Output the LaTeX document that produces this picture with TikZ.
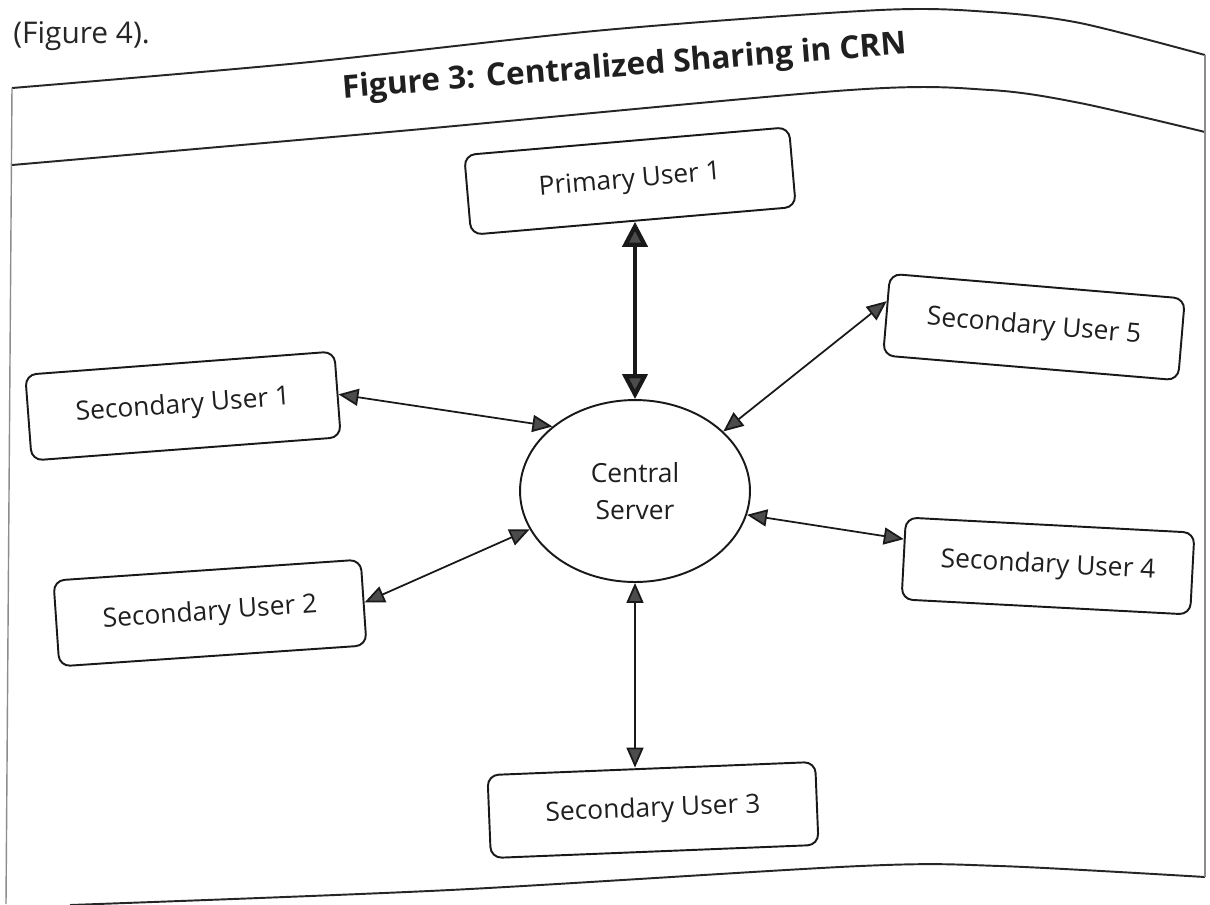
\documentclass[tikz,border=0pt]{standalone}
\usepackage{fontspec}
\setmainfont{Open Sans}
\usetikzlibrary{arrows.meta,shapes.geometric,calc}
\begin{document}
\begin{tikzpicture}[x=0.02cm,y=-0.02cm,
  userbox/.style={draw=black!90,line width=1.1pt,rounded corners=0.22cm,
    inner sep=0pt,font=\fontsize{15}{18}\selectfont,text=black!88},
  tipA/.tip={Triangle[length=4mm,width=3.4mm,fill=black!70]},
  tipB/.tip={Triangle[length=5mm,width=5mm,fill=black!70]},
  link/.style={line width=1pt,draw=black!90,tipA-tipA},
  biglink/.style={line width=2.4pt,draw=black!90,tipB-tipB},
  framel/.style={line width=1.1pt,draw=black!85},
  sidel/.style={line width=0.8pt,draw=black!45}
]
\fill[white] (0,0) rectangle (1210,904);
\useasboundingbox (0,0) rectangle (1210,904);

% text above the frame
\node[anchor=base west,inner sep=0pt,font=\fontsize{17}{20}\selectfont,text=black!85] (fig4) at (13,43) {(Figure 4).};

% frame
\draw[framel] plot[smooth,tension=0.5] coordinates {(12,88) (300,63) (605,30) (880,10) (990,12) (1080,23) (1205,55)};
\draw[framel] plot[smooth,tension=0.5] coordinates {(12,165) (400,131) (850,90) (990,90) (1080,103) (1205,132)};
\draw[framel] plot[smooth,tension=0.5] coordinates {(70,905) (450,890) (860,866) (1000,866) (1205,877)};
\draw[sidel] (12,88) -- (6,904);
\draw[sidel] (1205,55) -- (1205,877);

% title
\node[rotate=4.5,anchor=base,inner sep=0pt,font=\fontsize{18}{20}\selectfont\bfseries,text=black!88] (title) at (625,76) {Figure 3: Centralized Sharing in CRN};

% nodes
\node[userbox,rotate=4.9,minimum width=6.52cm,minimum height=1.6cm] (pu) at (630,181) {Primary User 1};
\node[userbox,rotate=4.3,minimum width=6.2cm,minimum height=1.72cm] (su1) at (183,406) {Secondary User 1};
\node[userbox,rotate=3.9,minimum width=6.16cm,minimum height=1.72cm] (su2) at (210,613) {Secondary User 2};
\node[userbox,rotate=2.3,minimum width=6.56cm,minimum height=1.66cm] (su3) at (653,810) {Secondary User 3};
\node[userbox,rotate=-3.0,minimum width=5.78cm,minimum height=1.64cm] (su4) at (1048,566) {Secondary User 4};
\node[userbox,rotate=-4.8,minimum width=5.92cm,minimum height=1.64cm] (su5) at (1034,327) {Secondary User 5};
\node[ellipse,draw=black!90,line width=1.1pt,inner sep=0pt,minimum width=4.6cm,minimum height=3.64cm,
  align=center,font=\fontsize{15}{21}\selectfont,text=black!88] (cs) at (635,491) {Central\\Server};

% connectors
\draw[biglink] (cs.north) -- (cs.north |- pu.south);
\draw[link] (su1.east) -- (cs.142);
\draw[link] (su2.east) -- (cs.200);
\draw[link] (cs.south) -- (cs.south |- su3.north);
\draw[link] (cs.-12) -- ($(su4.north west)!0.27!(su4.south west)$);
\draw[link] (cs.34) -- ($(su5.north west)!0.34!(su5.south west)$);
\end{tikzpicture}
\end{document}
